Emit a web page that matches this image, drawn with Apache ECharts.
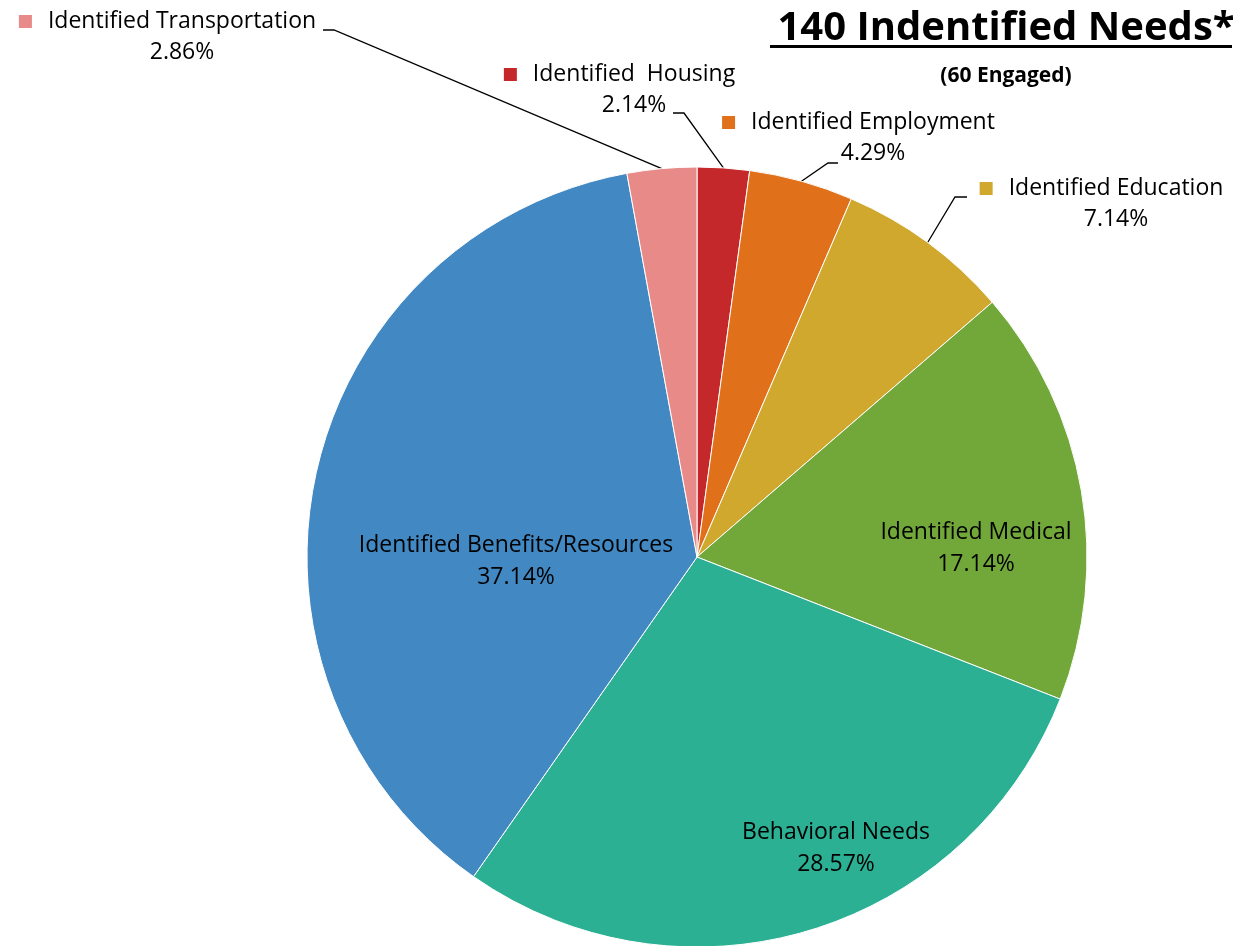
<!DOCTYPE html>
<html><head><meta charset="utf-8">
<script src="https://cdn.jsdelivr.net/npm/echarts@6/dist/echarts.min.js"></script>
<style>html,body{margin:0;padding:0;background:#fff}#chart{width:1233px;height:946px}</style>
</head><body><div id="chart"></div>
<script>
const categories = ['Identified  Housing','Identified Employment','Identified Education','Identified Medical','Behavioral Needs','Identified Benefits/Resources','Identified Transportation'];
const counts = [3, 6, 10, 24, 40, 52, 4];
const colors = ['#C5282A','#E07019','#D0A82E','#72A83A','#2BB094','#4289C3','#E88A88'];
const insideLabel = [false, false, false, true, true, true, false];
const totalNeeds = 140;
const engaged = 60;

const FONT = 'Open Sans';
const LABEL_SIZE = 23;

// label placement (layout only)
const labelPos = {
  0: {x: 634, y: 90, line: [[684, 113], [673, 113]]},
  1: {x: 873, y: 138, line: [[828, 163], [838, 163]]},
  2: {x: 1116, y: 204, line: [[955, 197], [967, 197]]},
  3: {x: 976, y: 548},
  4: {x: 836, y: 848},
  5: {x: 516, y: 561},
  6: {x: 182, y: 37, line: [[334, 30], [323, 30]]}
};

function pct(v) { return (v / totalNeeds * 100).toFixed(2) + '%'; }

const data = categories.map((name, i) => {
  const item = {name: name, value: counts[i], itemStyle: {color: colors[i]}};
  if (insideLabel[i]) {
    item.label = {
      position: 'inside',
      formatter: '{n|' + name + '}\n{n|' + pct(counts[i]) + '}'
    };
    item.labelLine = {show: false};
  } else {
    item.label = {
      position: 'outside',
      formatter: '{sq|}{g|}{n|' + name + '}{g2|}\n{n|' + pct(counts[i]) + '}',
      rich: {
        sq: {width: 13, height: 13, backgroundColor: colors[i]},
        g: {width: 16},
        g2: {width: 29},
        n: {fontFamily: FONT, fontSize: LABEL_SIZE, color: '#000', lineHeight: 31}
      }
    };
    item.labelLine = {show: true};
  }
  return item;
});

const chart = echarts.init(document.getElementById('chart'), null, {renderer: 'canvas'});
chart.setOption({
  backgroundColor: '#fff',
  animation: false,
  title: [{
    text: totalNeeds + ' Indentified Needs*',
    left: 1001,
    top: 4,
    textAlign: 'center',
    textStyle: {fontFamily: FONT, fontWeight: 'bold', fontSize: 40, color: '#000'}
  }, {
    text: '(' + engaged + ' Engaged)',
    left: 1001,
    top: 61,
    textAlign: 'center',
    textStyle: {fontFamily: FONT, fontWeight: 'bold', fontSize: 21, color: '#000'}
  }],
  graphic: [{
    type: 'rect', shape: {x: 770, y: 45, width: 462, height: 3}, style: {fill: '#000'}, silent: true
  }],
  series: [{
    type: 'pie',
    center: [697, 557],
    radius: [0, 390],
    startAngle: 90,
    clockwise: true,
    avoidLabelOverlap: false,
    data: data,
    itemStyle: {borderColor: '#ffffff', borderWidth: 1},
    label: {
      show: true,
      fontFamily: FONT,
      fontSize: LABEL_SIZE,
      color: '#000',
      align: 'center',
      rich: {
        n: {fontFamily: FONT, fontSize: LABEL_SIZE, color: '#000', lineHeight: 32}
      }
    },
    labelLine: {lineStyle: {color: '#000', width: 1.3}},
    labelLayout: function (params) {
      const p = labelPos[params.dataIndex];
      const out = {x: p.x, y: p.y, align: 'center', verticalAlign: 'middle'};
      if (p.line && params.labelLinePoints && params.labelLinePoints.length) {
        out.labelLinePoints = [params.labelLinePoints[0], p.line[0], p.line[1]];
      }
      return out;
    },
    emphasis: {disabled: true}
  }]
});
</script>
</body></html>
